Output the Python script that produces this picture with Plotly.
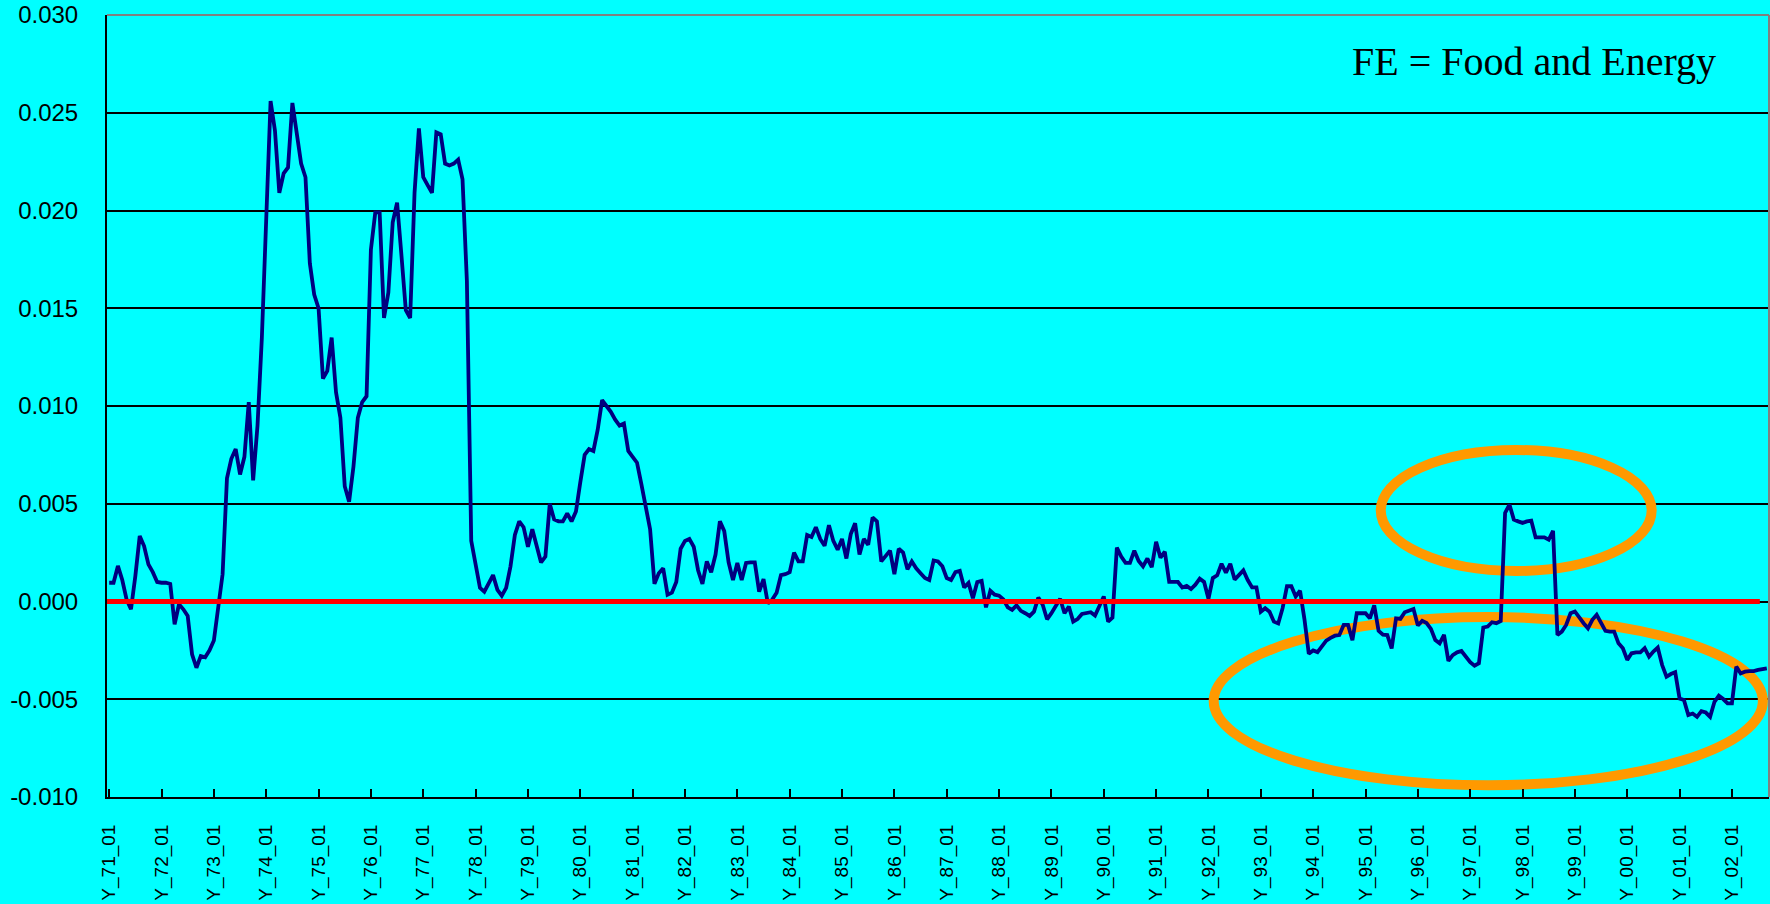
import plotly.graph_objects as go

# ---------------- data (monthly, Y_71_01 ... Y_02_09), values in thousandths ----------------
years = list(range(1971, 2003))
months = [f"Y_{y % 100:02d}_{m:02d}" for y in years for m in range(1, 13)][:381]

diff_thousandths = [
    0.96, 0.96, 1.82, 1.1, 0.1, -0.4, 1.3, 3.35, 2.84, 1.9, 1.5, 1.0,            # 71
    0.96, 0.96, 0.9, -1.17, -0.14, -0.4, -0.74, -2.7, -3.39, -2.79, -2.85, -2.5,  # 72
    -2.0, -0.3, 1.4, 6.3, 7.3, 7.8, 6.5, 7.4, 10.2, 6.2, 9.0, 13.5,               # 73
    19.0, 25.6, 24.1, 20.9, 21.9, 22.2, 25.5, 24.0, 22.4, 21.7, 17.3, 15.7,       # 74
    15.0, 11.4, 11.8, 13.5, 10.7, 9.4, 5.9, 5.1, 6.9, 9.4, 10.2, 10.5,            # 75
    18.0, 19.9, 19.9, 14.5, 15.8, 19.4, 20.4, 17.7, 14.9, 14.5, 20.9, 24.2,       # 76
    21.7, 21.3, 20.9, 24.0, 23.9, 22.4, 22.3, 22.4, 22.6, 21.6, 16.4, 3.1,        # 77
    2.0, 0.7, 0.5, 0.9, 1.35, 0.6, 0.3, 0.7, 1.8, 3.4, 4.1, 3.8,                  # 78
    2.8, 3.7, 2.8, 2.0, 2.3, 5.0, 4.2, 4.1, 4.1, 4.5, 4.1, 4.6,                   # 79
    6.1, 7.5, 7.8, 7.7, 8.8, 10.3, 10.0, 9.7, 9.3, 9.0, 9.1, 7.7,                 # 80
    7.4, 7.1, 6.0, 4.9, 3.7, 0.9, 1.45, 1.7, 0.35, 0.45, 1.0, 2.7,                # 81
    3.1, 3.2, 2.8, 1.6, 0.9, 2.05, 1.5, 2.4, 4.1, 3.6, 2.0, 1.1,                  # 82
    1.97, 1.1, 1.97, 2.0, 2.0, 0.5, 1.15, -0.1, 0.1, 0.45, 1.35, 1.4,             # 83
    1.5, 2.5, 2.05, 2.05, 3.4, 3.3, 3.8, 3.2, 2.85, 3.9, 3.1, 2.65,               # 84
    3.2, 2.2, 3.45, 4.0, 2.4, 3.2, 2.9, 4.3, 4.1, 2.05, 2.3, 2.6,                 # 85
    1.4, 2.7, 2.5, 1.65, 2.05, 1.7, 1.45, 1.2, 1.1, 2.1, 2.05, 1.8,               # 86
    1.2, 1.1, 1.5, 1.57, 0.72, 0.95, 0.17, 1.0, 1.06, -0.3, 0.55, 0.35,           # 87
    0.3, 0.1, -0.3, -0.43, -0.2, -0.48, -0.6, -0.74, -0.52, 0.2, -0.17, -0.91,    # 88
    -0.6, -0.2, 0.14, -0.6, -0.26, -1.03, -0.9, -0.64, -0.6, -0.55, -0.72, -0.2,  # 89
    0.26, -1.03, -0.83, 2.76, 2.3, 1.98, 1.98, 2.6, 2.07, 1.8, 2.2, 1.76,         # 90
    3.05, 2.24, 2.55, 1.0, 1.0, 1.0, 0.72, 0.8, 0.64, 0.86, 1.17, 1.0,            # 91
    0.14, 1.2, 1.34, 1.93, 1.47, 1.93, 1.12, 1.35, 1.59, 1.1, 0.72, 0.72,         # 92
    -0.52, -0.34, -0.52, -1.03, -1.12, -0.34, 0.78, 0.78, 0.26, 0.55, -0.9, -2.67,  # 93
    -2.5, -2.59, -2.28, -2.0, -1.86, -1.75, -1.72, -1.2, -1.2, -1.98, -0.6, -0.6,   # 94
    -0.6, -0.86, -0.2, -1.5, -1.7, -1.72, -2.4, -0.86, -0.89, -0.55, -0.45, -0.38,  # 95
    -1.23, -0.99, -1.1, -1.4, -1.97, -2.14, -1.71, -3.04, -2.74, -2.6, -2.53, -2.82,  # 96
    -3.1, -3.28, -3.16, -1.33, -1.28, -1.06, -1.11, -1.0, 4.53, 4.96, 4.19, 4.1,    # 97
    4.02, 4.1, 4.14, 3.28, 3.28, 3.28, 3.16, 3.62, -1.71, -1.54, -1.2, -0.6,        # 98
    -0.51, -0.85, -1.11, -1.37, -0.94, -0.68, -1.11, -1.5, -1.54, -1.54, -2.14, -2.39,  # 99
    -2.99, -2.65, -2.6, -2.6, -2.39, -2.82, -2.56, -2.36, -3.25, -3.85, -3.71, -3.62,   # 00
    -4.96, -5.04, -5.81, -5.73, -5.9, -5.61, -5.68, -5.9, -5.13, -4.82, -4.99, -5.21,   # 01
    -5.21, -3.33, -3.68, -3.59, -3.56, -3.56, -3.5, -3.45, -3.42,                       # 02
]
assert len(diff_thousandths) == len(months)
diff = [v / 1000.0 for v in diff_thousandths]

x_tick_labels = [f"Y_{y % 100:02d}_01" for y in years]
y_tick_vals = [-0.010, -0.005, 0.0, 0.005, 0.010, 0.015, 0.020, 0.025, 0.030]
y_tick_text = ["-0.010", "-0.005", "0.000", "0.005", "0.010", "0.015", "0.020", "0.025", "0.030"]
note_text = "FE = Food and Energy"

# ---------------- figure ----------------
CYAN = "#00FFFF"
fig = go.Figure()
fig.add_trace(go.Scatter(
    x=months, y=diff, mode="lines",
    line=dict(color="#000080", width=3.8),
    showlegend=False, hoverinfo="x+y",
))

shapes = [
    # highlight ellipses
    dict(type="circle", xref="x", yref="y", x0=291.5, x1=353.6, y0=0.00156, y1=0.00775,
         line=dict(color="#FF9900", width=10), layer="between"),
    dict(type="circle", xref="x", yref="y", x0=253.2, x1=379.1, y0=-0.0094, y1=-0.00079,
         line=dict(color="#FF9900", width=10), layer="between"),
    # red zero line
    dict(type="line", xref="x", yref="y", x0=-0.5, x1=378.4, y0=0, y1=0,
         line=dict(color="#FF0000", width=5), layer="above"),
    # plot-area border (top, right)
    dict(type="line", xref="paper", yref="paper", x0=0, x1=1, y0=1, y1=1,
         line=dict(color="#808080", width=2), layer="above"),
    dict(type="line", xref="paper", yref="paper", x0=1, x1=1, y0=0, y1=1,
         line=dict(color="#808080", width=2), layer="above"),
]

fig.update_layout(
    width=1770, height=904,
    margin=dict(l=107, r=1, t=15, b=107, pad=0),
    paper_bgcolor=CYAN, plot_bgcolor=CYAN,
    showlegend=False,
    shapes=shapes,
    annotations=[dict(
        text=note_text, xref="paper", yref="paper", x=0.9693, y=0.9399,
        xanchor="right", yanchor="middle", showarrow=False,
        font=dict(family="Liberation Serif, Times New Roman, serif", size=40, color="black"),
    )],
    xaxis=dict(
        type="category", range=[-0.5, 380.5],
        tickmode="array", tickvals=x_tick_labels, ticktext=x_tick_labels,
        tickangle=-90, ticks="inside", ticklen=8, tickwidth=2, tickcolor="black",
        showgrid=False, showline=True, linecolor="black", linewidth=2,
        tickfont=dict(family="Liberation Sans, Arial, sans-serif", size=19, color="black"),
        ticklabelstandoff=18, automargin=False, fixedrange=True,
    ),
    yaxis=dict(
        range=[-0.010, 0.030],
        tickmode="array", tickvals=y_tick_vals, ticktext=y_tick_text,
        ticks="inside", ticklen=8, tickwidth=2, tickcolor="black",
        showgrid=True, gridcolor="black", gridwidth=1.7, zeroline=False,
        showline=True, linecolor="black", linewidth=2,
        tickfont=dict(family="Liberation Sans, Arial, sans-serif", size=24, color="black"),
        ticklabelstandoff=22, automargin=False, fixedrange=True,
    ),
)

fig.write_html(
    "out.html",
    config={"displayModeBar": False},
    post_script="document.body.style.margin='0';document.body.style.background='#00FFFF';"
                "document.body.style.overflow='hidden';",
)
